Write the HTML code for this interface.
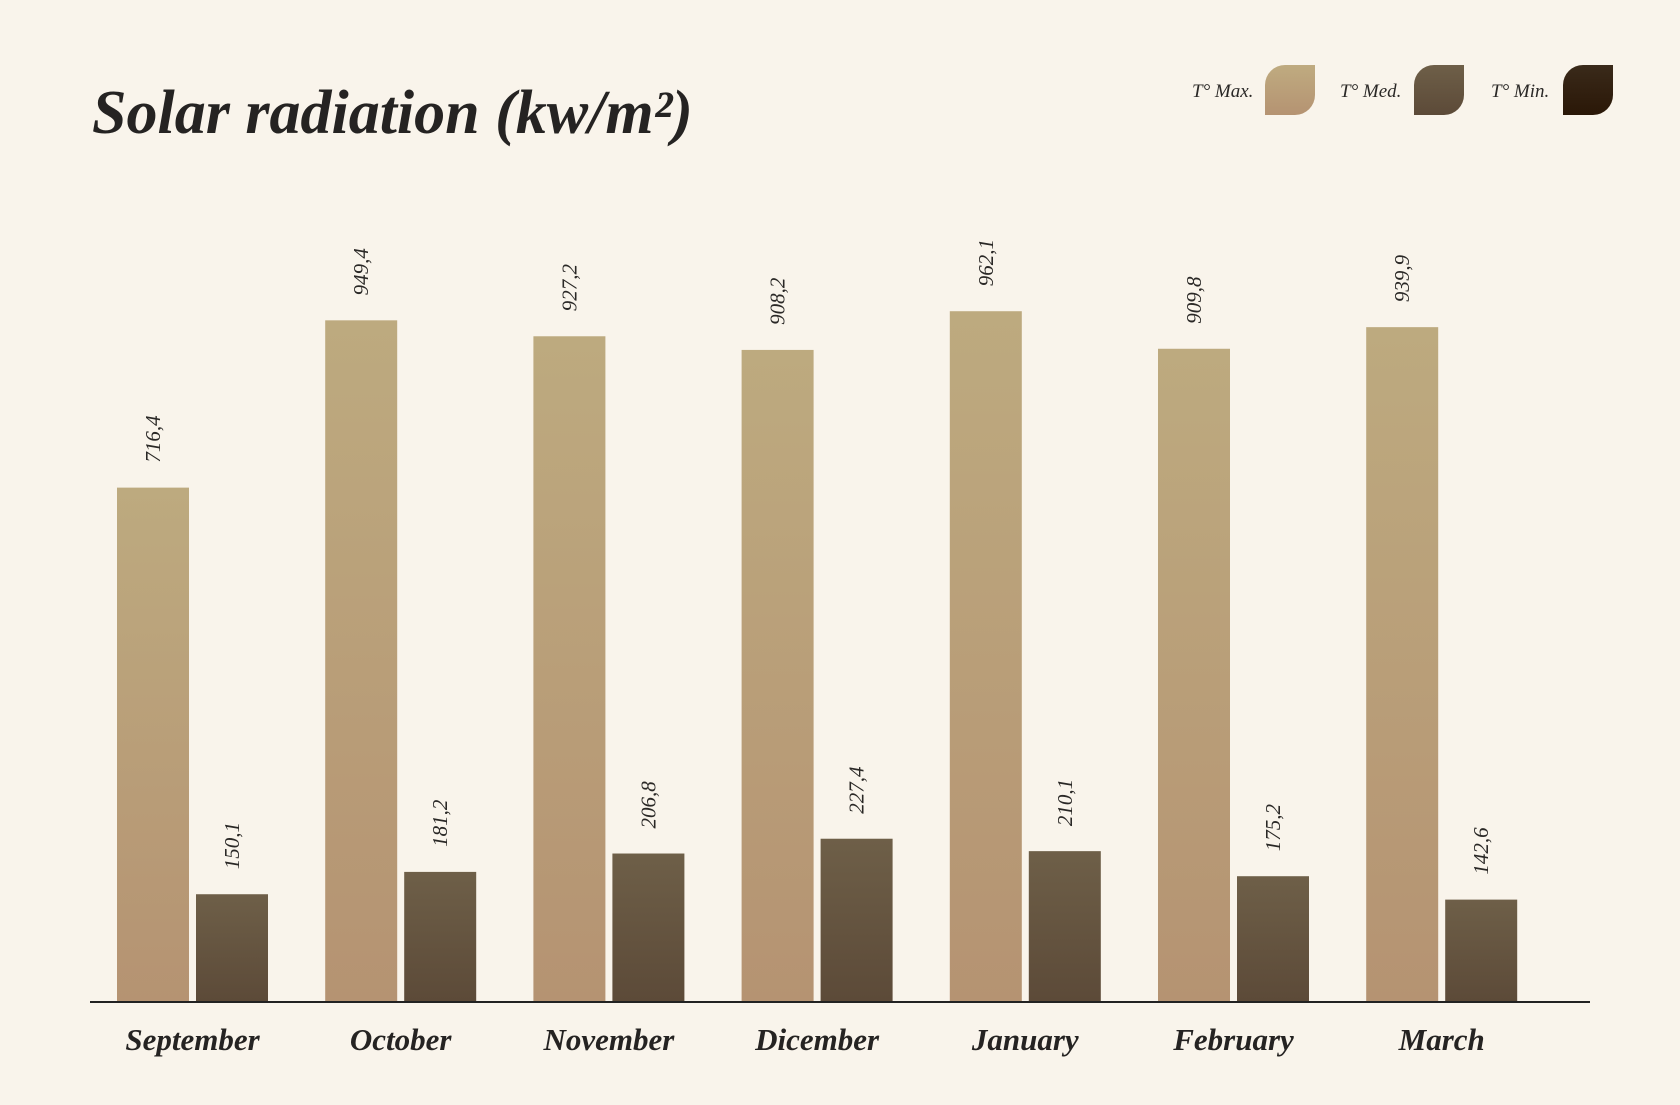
<!DOCTYPE html>
<html><head><meta charset="utf-8"><style>
html,body{margin:0;padding:0;background:#f9f4eb;}
body{width:1680px;height:1100px;overflow:hidden;font-family:"Liberation Serif",serif;}
</style></head><body>
<svg width="1680" height="1100" xmlns="http://www.w3.org/2000/svg">
<defs>
<linearGradient id="gMax" x1="0" y1="0" x2="0" y2="1"><stop offset="0" stop-color="#bdaa7f"/><stop offset="1" stop-color="#b59372"/></linearGradient>
<linearGradient id="gMed" x1="0" y1="0" x2="0" y2="1"><stop offset="0" stop-color="#6e5f48"/><stop offset="1" stop-color="#5c4a38"/></linearGradient>
<linearGradient id="gMin" x1="0" y1="0" x2="0" y2="1"><stop offset="0" stop-color="#3a2a1a"/><stop offset="1" stop-color="#2a1707"/></linearGradient>
<linearGradient id="gMaxL" x1="0" y1="0" x2="0" y2="1"><stop offset="0" stop-color="#bfab80"/><stop offset="1" stop-color="#b59372"/></linearGradient>
</defs>
<text x="92" y="133" font-size="62" font-style="italic" font-weight="bold" fill="#252322">Solar radiation (kw/m²)</text>
<g>
<text x="1192" y="97" font-size="19" font-style="italic" fill="#2a2826">T° Max.</text>
<path d="M1285,65 H1315 V95 A20,20 0 0 1 1295,115 H1265 V85 A20,20 0 0 1 1285,65 Z" fill="url(#gMaxL)"/>
<text x="1340" y="97" font-size="19" font-style="italic" fill="#2a2826">T° Med.</text>
<path d="M1434,65 H1464 V95 A20,20 0 0 1 1444,115 H1414 V85 A20,20 0 0 1 1434,65 Z" fill="url(#gMed)"/>
<text x="1491" y="97" font-size="19" font-style="italic" fill="#2a2826">T° Min.</text>
<path d="M1583,65 H1613 V95 A20,20 0 0 1 1593,115 H1563 V85 A20,20 0 0 1 1583,65 Z" fill="url(#gMin)"/>
</g>
<g id="plot"></g>
<line x1="90" y1="1002" x2="1590" y2="1002" stroke="#222" stroke-width="2"/>
</svg>
<script>
const categories=["September","October","November","Dicember","January","February","March"];
const maxValues=[716.4,949.4,927.2,908.2,962.1,909.8,939.9];
const medValues=[150.1,181.2,206.8,227.4,210.1,175.2,142.6];
const maxLabels=["716,4","949,4","927,2","908,2","962,1","909,8","939,9"];
const medLabels=["150,1","181,2","206,8","227,4","210,1","175,2","142,6"];

const NS="http://www.w3.org/2000/svg";
const plot=document.getElementById('plot');
const baseY=1002, pxPerUnit=0.718, x0=117, step=208.2, barW=72, gap=7;
function yScale(v){return baseY-v*pxPerUnit;}
function xGroup(i){return x0+i*step;}
function mk(tag,attrs){const e=document.createElementNS(NS,tag);for(const k in attrs)e.setAttribute(k,attrs[k]);plot.appendChild(e);return e;}
function bar(x,v,fill,label,name){
  const y=yScale(v);
  const r=mk('rect',{x:x,y:y,width:barW,height:baseY-y,fill:fill});
  
  
  const cx=x+barW/2+7, ty=y-25;
  const t=mk('text',{x:cx,y:ty,transform:'rotate(-90 '+cx+' '+ty+')','font-size':'21','font-style':'italic',fill:'#2a2826'});
  t.textContent=label;
  
  
}
categories.forEach((c,i)=>{
  const gx=xGroup(i);
  bar(gx,maxValues[i],'url(#gMax)',maxLabels[i],'bar-max-'+c.toLowerCase());
  bar(gx+barW+gap,medValues[i],'url(#gMed)',medLabels[i],'bar-med-'+c.toLowerCase());
  const t=mk('text',{x:gx+barW+gap/2,y:1050,'text-anchor':'middle','font-size':'31','font-style':'italic','font-weight':'bold',fill:'#252322'});
  t.textContent=c;
  
  
});
</script>
</body></html>
